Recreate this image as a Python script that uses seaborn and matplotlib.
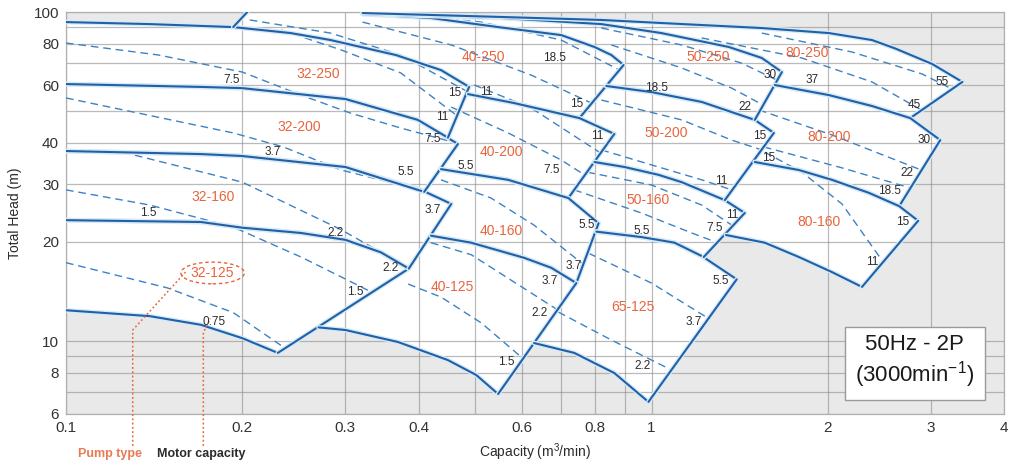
"""
Pump selection chart, 50Hz - 2P.

Coverage area of every pump type on a log-log capacity / head field,
with the motor capacity limits drawn as dashed lines inside the areas.
"""

import matplotlib
matplotlib.use("Agg")
import pandas as pd
import matplotlib.pyplot as plt
import matplotlib.patheffects as pe
from matplotlib.ticker import NullFormatter
import seaborn as sns

# --- STYLE ---
SOLID = "#2160a6"
DASHED = "#3d82c2"
HALO = "#d6eaf8"
RED = "#e8643c"
FIELD = "#e9e9ea"
TEXT = "#2b2b2b"

# --- DATA: (capacity m3/min, total head m) ---
# 32 series (start at the left border, Q = 0.1)
TOP_32_125 = [(0.100, 23.3), (0.170, 23.0), (0.200, 22.1), (0.252, 21.3), (0.300, 20.3), (0.345, 18.6), (0.385, 16.6)]
BOT_32_125 = [(0.100, 12.4), (0.139, 11.9), (0.170, 11.2), (0.200, 10.2), (0.230, 9.2)]

TOP_32_160 = [(0.100, 37.8), (0.170, 37.0), (0.200, 36.5), (0.300, 33.8), (0.404, 28.8), (0.455, 26.1)]
BOT_32_160 = TOP_32_125

TOP_32_200 = [(0.100, 60.4), (0.170, 59.2), (0.200, 58.7), (0.300, 54.4), (0.399, 47.0), (0.467, 39.7)]
BOT_32_200 = [(0.100, 37.8), (0.170, 37.0), (0.200, 36.5), (0.300, 33.8), (0.409, 28.4)]

TOP_32_250 = [(0.100, 93.2), (0.139, 91.9), (0.193, 90.0), (0.242, 86.3), (0.283, 82.2), (0.366, 74.0), (0.437, 66.6), (0.488, 59.2)]
BOT_32_250 = [(0.100, 60.4), (0.170, 59.2), (0.200, 58.7), (0.300, 54.4), (0.399, 47.0), (0.449, 41.5)]

# 40 series
TOP_40_250 = [(0.321, 98.6), (0.420, 95.9), (0.547, 90.0), (0.701, 85.1), (0.799, 78.3), (0.854, 74.0), (0.896, 69.0)]
BOT_40_250 = [(0.486, 56.3), (0.582, 52.9), (0.753, 47.6)]
LEFT_40_250 = [(0.321, 100.0), (0.204, 100.0), (0.193, 90.0), (0.242, 86.3), (0.283, 82.2), (0.366, 74.0), (0.437, 66.6), (0.488, 59.2)]
EDGE_40_250 = [(0.193, 90.0), (0.204, 100.0)]

TOP_40_200 = [(0.486, 56.3), (0.582, 52.9), (0.753, 47.6), (0.864, 42.6)]
BOT_40_200 = [(0.437, 33.3), (0.569, 30.9), (0.721, 27.2)]
LEFT_40_200 = [(0.449, 41.5), (0.467, 39.7)]

TOP_40_160 = [(0.437, 33.3), (0.569, 30.9), (0.721, 27.2), (0.812, 22.8)]
BOT_40_160 = [(0.420, 20.9), (0.492, 19.9), (0.606, 17.9), (0.674, 16.7), (0.744, 15.0)]
LEFT_40_160 = [(0.409, 28.4), (0.455, 26.1)]

TOP_40_125 = BOT_40_160
BOT_40_125 = [(0.270, 11.0), (0.300, 10.8), (0.369, 9.93), (0.449, 8.75), (0.502, 7.88), (0.547, 6.90)]
LEFT_40_125 = [(0.385, 16.6)]

# 50 / 65 series
TOP_65_125 = [(0.805, 21.5), (0.961, 20.7), (1.095, 19.9), (1.232, 17.9), (1.398, 15.4)]
BOT_65_125 = [(0.630, 9.86), (0.738, 9.20), (0.864, 7.99), (0.988, 6.53)]
LEFT_65_125 = [(0.744, 15.0)]

TOP_50_160 = [(0.799, 35.0), (0.899, 33.8), (1.028, 32.0), (1.126, 30.4), (1.334, 26.8), (1.443, 24.5)]
BOT_50_160 = [(0.805, 21.5), (0.961, 20.7), (1.095, 19.9), (1.228, 18.0)]
LEFT_50_160 = [(0.721, 27.2), (0.812, 22.8)]

TOP_50_200 = [(0.837, 59.6), (1.000, 57.1), (1.218, 53.3), (1.501, 47.0), (1.618, 42.9)]
BOT_50_200 = [(0.799, 35.0), (0.899, 33.8), (1.028, 32.0), (1.126, 30.4), (1.334, 26.8)]
LEFT_50_200 = [(0.753, 47.6), (0.864, 42.6)]

TOP_50_250 = [(0.321, 98.6), (0.554, 95.9), (0.821, 91.9), (1.040, 86.3), (1.355, 78.3), (1.543, 72.5), (1.670, 65.7)]
BOT_50_250 = [(0.837, 59.6), (1.000, 57.1), (1.218, 53.3), (1.501, 47.0)]
LEFT_50_250 = TOP_40_250[1:]

# 80 series
TOP_80_250 = [(0.321, 99.3), (0.554, 96.6), (0.821, 94.6), (1.040, 92.6), (1.543, 89.4), (2.010, 86.3), (2.380, 82.2), (2.607, 77.5), (3.016, 69.5), (3.396, 61.3)]
BOT_80_250 = [(1.624, 60.0), (2.010, 55.9), (2.380, 51.8), (2.766, 47.6)]
LEFT_80_250 = TOP_50_250[1:]

TOP_80_200 = [(1.624, 60.0), (2.010, 55.9), (2.380, 51.8), (2.766, 47.6), (3.113, 40.8)]
BOT_80_200 = [(1.501, 35.0), (1.785, 33.1), (2.033, 30.9), (2.352, 28.2), (2.649, 25.7)]
LEFT_80_200 = [(1.501, 47.0), (1.618, 42.9)]

TOP_80_160 = [(1.501, 35.0), (1.785, 33.1), (2.033, 30.9), (2.352, 28.2), (2.649, 25.7), (2.854, 23.2)]
BOT_80_160 = [(1.340, 21.0), (1.561, 19.9), (1.785, 18.0), (2.033, 16.2), (2.288, 14.6)]
LEFT_80_160 = [(1.334, 26.8), (1.443, 24.5)]

# (top curve, bottom curve, path along the neighbours from top start to bottom start)
REGIONS = [
    (TOP_32_125, BOT_32_125, []),
    (TOP_32_160, BOT_32_160, []),
    (TOP_32_200, BOT_32_200, []),
    (TOP_32_250, BOT_32_250, []),
    (TOP_40_250, BOT_40_250, LEFT_40_250),
    (TOP_40_200, BOT_40_200, LEFT_40_200),
    (TOP_40_160, BOT_40_160, LEFT_40_160),
    (TOP_40_125, BOT_40_125, LEFT_40_125),
    (TOP_65_125, BOT_65_125, LEFT_65_125),
    (TOP_50_160, BOT_50_160, LEFT_50_160),
    (TOP_50_200, BOT_50_200, LEFT_50_200),
    (TOP_50_250, BOT_50_250, LEFT_50_250),
    (TOP_80_250, BOT_80_250, LEFT_80_250),
    (TOP_80_200, BOT_80_200, LEFT_80_200),
    (TOP_80_160, BOT_80_160, LEFT_80_160),
]

# motor capacity limits (dashed)
MOTOR_LINES = [
    [(0.100, 17.3), (0.149, 14.5), (0.193, 12.2), (0.235, 9.59)],
    [(0.100, 28.8), (0.139, 25.9), (0.193, 22.2), (0.252, 18.0), (0.303, 15.3), (0.332, 14.1)],
    [(0.125, 37.5), (0.200, 30.4), (0.295, 21.8), (0.384, 16.7)],
    [(0.100, 54.8), (0.193, 42.9), (0.235, 38.9), (0.295, 33.1), (0.373, 29.8), (0.409, 28.4)],
    [(0.100, 80.5), (0.144, 74.0), (0.200, 65.7), (0.252, 55.9), (0.306, 49.3), (0.373, 44.4), (0.464, 40.0)],
    [(0.206, 94.6), (0.283, 86.3), (0.373, 74.0), (0.483, 57.5)],
    [(0.233, 88.2), (0.295, 76.7), (0.373, 65.3), (0.464, 48.6)],
    [(0.373, 98.6), (0.512, 93.2), (0.701, 82.2), (0.882, 66.6)],
    [(0.321, 93.2), (0.455, 79.4), (0.623, 64.3), (0.789, 52.9)],
    [(0.498, 60.0), (0.623, 51.1), (0.818, 37.3)],
    [(0.455, 51.4), (0.569, 42.9), (0.701, 35.5), (0.768, 32.0)],
    [(0.437, 30.9), (0.532, 27.2), (0.630, 22.5), (0.768, 17.0)],
    [(0.420, 19.9), (0.492, 18.3), (0.576, 15.3), (0.693, 12.4)],
    [(0.384, 14.9), (0.437, 13.6), (0.512, 11.35), (0.599, 8.94)],
    [(0.780, 18.5), (1.000, 15.0), (1.252, 11.7)],
    [(0.693, 12.25), (0.854, 10.07), (1.082, 8.16)],
    [(0.738, 28.8), (0.961, 24.5), (1.171, 21.3), (1.297, 19.9)],
    [(0.777, 32.6), (1.000, 29.8), (1.218, 25.9), (1.387, 22.2)],
    [(0.821, 38.1), (1.000, 34.3), (1.218, 30.9), (1.371, 28.8)],
    [(0.821, 54.0), (1.126, 47.0), (1.371, 40.8), (1.543, 38.1)],
    [(0.854, 79.4), (1.126, 67.6), (1.371, 58.7), (1.549, 52.2)],
    [(0.821, 89.4), (1.126, 79.4), (1.426, 69.9), (1.637, 62.1)],
    [(1.218, 83.4), (1.806, 72.5), (2.380, 61.3), (2.888, 50.4)],
    [(1.543, 86.3), (2.200, 75.6), (2.899, 64.8), (3.264, 58.3)],
    [(1.525, 50.4), (2.033, 42.3), (2.888, 33.1)],
    [(1.555, 38.9), (2.115, 33.6), (2.766, 29.2)],
    [(1.561, 37.5), (1.806, 32.6), (2.115, 26.1), (2.486, 17.4)],
]

PUMP_LABELS = [
    ("32-250", 0.270, 64.8), ("32-200", 0.250, 44.7), ("32-160", 0.178, 27.4), ("32-125", 0.178, 16.1),
    ("40-250", 0.516, 73.0), ("40-200", 0.554, 37.5), ("40-160", 0.554, 21.6), ("40-125", 0.456, 14.6),
    ("50-250", 1.252, 73.0), ("50-200", 1.061, 42.9), ("50-160", 0.988, 26.8), ("65-125", 0.928, 12.7),
    ("80-250", 1.842, 75.1), ("80-200", 2.010, 41.7), ("80-160", 1.932, 23.0),
]

MOTOR_LABELS = [
    ("0.75", 0.179, 11.4), ("1.5", 0.138, 24.5), ("1.5", 0.3125, 14.1), ("2.2", 0.289, 21.3), ("2.2", 0.359, 16.7),
    ("3.7", 0.225, 37.5), ("3.7", 0.423, 25.0), ("5.5", 0.381, 32.6), ("7.5", 0.192, 62.1), ("7.5", 0.422, 41.1),
    ("11", 0.439, 48.0), ("15", 0.462, 56.7), ("11", 0.522, 57.1), ("5.5", 0.482, 34.0), ("7.5", 0.674, 33.1),
    ("18.5", 0.682, 72.5), ("15", 0.744, 52.5), ("11", 0.808, 42.0), ("5.5", 0.774, 22.5), ("5.5", 0.961, 21.6),
    ("3.7", 0.735, 16.9), ("3.7", 0.669, 15.2), ("2.2", 0.645, 12.2), ("1.5", 0.565, 8.63), ("2.2", 0.965, 8.39),
    ("3.7", 1.180, 11.4), ("5.5", 1.313, 15.2), ("7.5", 1.282, 22.1), ("11", 1.371, 24.2), ("18.5", 1.020, 58.7),
    ("22", 1.443, 51.4), ("30", 1.592, 64.3), ("37", 1.879, 62.1), ("15", 1.531, 42.0), ("15", 1.586, 36.0),
    ("11", 1.318, 30.6), ("45", 2.810, 52.2), ("55", 3.140, 61.3), ("30", 2.923, 40.8), ("22", 2.733, 32.4),
    ("18.5", 2.546, 28.5), ("15", 2.680, 23.0), ("11", 2.380, 17.4),
]

# leader lines of the little key under the chart
PUMP_LEADER = [(0.130, 4.8), (0.130, 10.8), (0.160, 16.2)]
MOTOR_LEADER = [(0.1716, 4.8), (0.1716, 10.6), (0.1764, 11.7)]

X_MAJOR = [0.1, 0.2, 0.3, 0.4, 0.6, 0.8, 1, 2, 3, 4]
X_LABELS = ["0.1", "0.2", "0.3", "0.4", "0.6", "0.8", "1", "2", "3", "4"]
X_MINOR = [0.5, 0.7, 0.9]
Y_MAJOR = [6, 8, 10, 20, 30, 40, 60, 80, 100]
Y_LABELS = ["6", "8", "10", "20", "30", "40", "60", "80", "100"]
Y_MINOR = [7, 9, 50, 70, 90]


def to_frame(segments):
    """Long table (segment id, Q, H) for seaborn."""
    rows = []
    for k, seg in enumerate(segments):
        for q, h in seg:
            rows.append({"seg": k, "Q": q, "H": h})
    return pd.DataFrame(rows)


def main():
    sns.set_theme(style="white")
    plt.rcParams["font.family"] = ["Liberation Sans", "DejaVu Sans"]
    plt.rcParams["mathtext.fontset"] = "custom"
    plt.rcParams["mathtext.rm"] = "Liberation Sans"
    plt.rcParams["mathtext.it"] = "Liberation Sans:italic"

    fig, ax = plt.subplots(figsize=(10.11, 4.66), dpi=100)
    fig.subplots_adjust(left=0.0653, right=0.9931, bottom=0.1116, top=0.9742)
    ax.set_xscale("log")
    ax.set_yscale("log")
    ax.set_xlim(0.1, 4)
    ax.set_ylim(6, 100)
    ax.set_facecolor(FIELD)

    # white coverage areas
    for top, bot, left in REGIONS:
        poly = list(bot) + list(top[::-1]) + list(left)
        ax.fill([p[0] for p in poly], [p[1] for p in poly], color="white", lw=0, zorder=0.5)

    # outlines: top curve, bottom curve and the right edge of every area
    segments = []
    for top, bot, _ in REGIONS:
        segments += [top, bot, [bot[-1], top[-1]]]
    segments.append(EDGE_40_250)

    sns.lineplot(data=to_frame(MOTOR_LINES), x="Q", y="H", units="seg", estimator=None,
                 sort=False, color=DASHED, linewidth=1.0, linestyle=(0, (5.5, 3.5)),
                 legend=False, ax=ax, zorder=3)
    sns.lineplot(data=to_frame(segments), x="Q", y="H", units="seg", estimator=None,
                 sort=False, color=SOLID, linewidth=1.5, legend=False, ax=ax, zorder=4,
                 path_effects=[pe.Stroke(linewidth=3.4, foreground=HALO), pe.Normal()])

    for txt, q, h in PUMP_LABELS:
        kw = {}
        if txt == "32-125":
            kw["bbox"] = dict(boxstyle="ellipse,pad=0.05", fc="none", ec=RED, ls=(0, (2.5, 2)), lw=1.0)
        ax.text(q, h, txt, color=RED, fontsize=10, ha="center", va="center", zorder=6, **kw)
    for txt, q, h in MOTOR_LABELS:
        ax.text(q, h, txt, color=TEXT, fontsize=8.5, ha="center", va="center", zorder=6)

    # key under the chart
    for path in (PUMP_LEADER, MOTOR_LEADER):
        ax.plot([p[0] for p in path], [p[1] for p in path], color=RED, lw=1.1,
                ls=(0, (1.2, 1.6)), clip_on=False, zorder=5)
    fig.text(0.077, 0.026, "Pump type", color="#ec7a50", fontsize=9, fontweight="bold", va="center")
    fig.text(0.155, 0.026, "Motor capacity", color=TEXT, fontsize=9, fontweight="bold", va="center")

    ax.text(0.905, 0.129, "50Hz - 2P\n(3000min$^{-1}$)", transform=ax.transAxes,
            ha="center", va="center", fontsize=16, color="#1a1a1a", linespacing=1.2, zorder=7,
            bbox=dict(boxstyle="square,pad=0.45", fc="white", ec="#9a9a9a", lw=1.0))

    # axes, ticks, grid
    ax.set_xticks(X_MAJOR, X_LABELS)
    ax.set_xticks(X_MINOR, minor=True)
    ax.set_yticks(Y_MAJOR, Y_LABELS)
    ax.set_yticks(Y_MINOR, minor=True)
    ax.xaxis.set_minor_formatter(NullFormatter())
    ax.yaxis.set_minor_formatter(NullFormatter())
    ax.tick_params(which="both", length=0, labelsize=11, pad=5, labelcolor="#333333")
    ax.set_axisbelow("line")
    ax.grid(True, which="both", color="#8c8c8c", alpha=0.6, linewidth=0.9)
    for sp in ax.spines.values():
        sp.set_color("#b0b0b0")
        sp.set_linewidth(0.9)

    ax.set_xlabel("Capacity (m$^3$/min)", fontsize=10, color=TEXT, labelpad=5)
    ax.set_ylabel("Total Head (m)", fontsize=10, color=TEXT, labelpad=8)

    fig.savefig("out.png", dpi=100)
    plt.close(fig)


if __name__ == "__main__":
    main()
